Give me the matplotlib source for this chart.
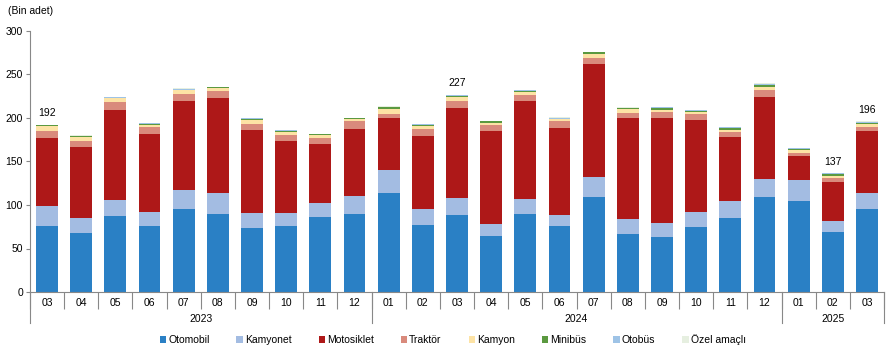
import matplotlib.pyplot as plt
import numpy as np

plt.rcParams['font.family'] = ['Liberation Sans', 'DejaVu Sans']

# months (2023-03 .. 2025-03)
months = ["03", "04", "05", "06", "07", "08", "09", "10", "11", "12",
          "01", "02", "03", "04", "05", "06", "07", "08", "09", "10", "11", "12",
          "01", "02", "03"]
years = ["2023", "2024", "2025"]
year_counts = [10, 12, 3]

# thousand units
otomobil = [76, 68, 87, 76, 95, 90, 73.5, 76, 86, 90, 114, 77, 88.5, 64, 90, 76, 109, 66.5, 63, 74.5, 85, 109, 104.5, 69, 95.5]
kamyonet = [23, 17, 19, 16, 22, 24, 17, 15, 16, 20, 26.5, 18.5, 19.5, 14, 17, 12.5, 23, 17.5, 16, 17.5, 19.5, 21, 24.5, 12.5, 18.5]
motosiklet = [77.5, 82, 103, 90, 103, 109.5, 96, 82, 68, 77, 60, 84, 104, 107.5, 112, 100.5, 130.5, 116.5, 121, 106, 74, 94.5, 27.5, 45, 71.5]
traktor = [9, 7, 9, 8, 8, 7, 7, 7, 7, 9, 4.6, 8, 8, 7, 8, 7, 7, 5.8, 7, 7, 5.8, 8, 3.4, 4.6, 4.6]
kamyon = [5, 4.5, 4.5, 2, 4, 4, 4, 4, 3.5, 2.5, 5.8, 3.5, 4.6, 2.3, 3.4, 2.3, 4.6, 3.5, 2.3, 2.4, 2.3, 3.5, 3.5, 2.3, 3.5]
minibus = [1, 0.7, 1, 1.3, 0.5, 1.2, 1.2, 1, 1, 1.2, 2, 1.5, 1.2, 1.2, 1, 0.6, 1.8, 1.2, 2.3, 1.1, 2.3, 2.3, 1.1, 2.3, 1.1]
otobus = [0.7, 0.5, 0.5, 0.4, 0.7, 0.3, 0.8, 0.8, 0.3, 0.3, 0.3, 0.3, 0.8, 0.8, 0.7, 0.6, 0.3, 0.8, 0.8, 0.8, 0.2, 1, 0.8, 0.7, 0.8]
ozel = [0.3, 1, 0.3, 0.3, 0.8, 0.2, 0.3, 0.5, 0.2, 0.2, 0.2, 0.2, 0.4, 0.3, 0.4, 1.2, 0.2, 0.3, 0.4, 0.4, 0.1, 0.5, 0.5, 0.4, 0.5]

# labelled totals (bar index -> label)
label_idx = [0, 12, 23, 24]
label_txt = ["192", "227", "137", "196"]

series = [
    ("Otomobil", otomobil, "#2a80c5"),
    ("Kamyonet", kamyonet, "#a3bce2"),
    ("Motosiklet", motosiklet, "#ae1818"),
    ("Traktör", traktor, "#d98a7c"),
    ("Kamyon", kamyon, "#fde3a5"),
    ("Minibüs", minibus, "#5b9940"),
    ("Otobüs", otobus, "#9ec3e6"),
    ("Özel amaçlı", ozel, "#e6efe0"),
]

fig = plt.figure(figsize=(8.93, 3.52), dpi=100)
ax = fig.add_axes([30 / 893, 60 / 352, 854 / 893, 261 / 352])

x = np.arange(len(months))
bottom = np.zeros(len(months))
for name, vals, col in series:
    ax.bar(x, vals, width=0.64, bottom=bottom, color=col, label=name, linewidth=0)
    bottom += np.array(vals)

for i, t in zip(label_idx, label_txt):
    ax.text(x[i], bottom[i] + 7, t, ha="center", va="bottom", fontsize=7.5)

ax.set_xlim(-0.5, len(months) - 0.5)
ax.set_ylim(0, 300)
ax.set_yticks(np.arange(0, 301, 50))
ax.tick_params(axis="y", labelsize=7.5, length=3, color="#888888", pad=2)

for s in ["top", "right"]:
    ax.spines[s].set_visible(False)
ax.spines["left"].set_color("#888888")
ax.spines["bottom"].set_color("#888888")

# month labels + separators
ax.set_xticks(x)
ax.set_xticklabels(months, fontsize=7.5)
ax.tick_params(axis="x", length=0, pad=4)
ax.set_xticks(np.arange(-0.5, len(months), 1), minor=True)
ax.tick_params(axis="x", which="minor", length=12, color="#888888", width=0.8)

# year labels + longer separators
tr = ax.get_xaxis_transform()
start = -0.5
for yr, n in zip(years, year_counts):
    ax.plot([start, start], [0, -0.12], transform=tr, color="#888888", lw=0.8, clip_on=False)
    ax.text(start + n / 2, -0.105, yr, transform=tr, ha="center", va="center", fontsize=7.5)
    start += n
ax.plot([start, start], [0, -0.12], transform=tr, color="#888888", lw=0.8, clip_on=False)

fig.text(8 / 893, 1 - 11 / 352, "(Bin adet)", fontsize=7.5, va="center")

fig.legend(loc="center", bbox_to_anchor=(0.507, 12 / 352), ncol=8, frameon=False,
           fontsize=7.5, handlelength=0.6, handleheight=0.6, handletextpad=0.2,
           columnspacing=2.6)

fig.savefig("out.png", dpi=100)
